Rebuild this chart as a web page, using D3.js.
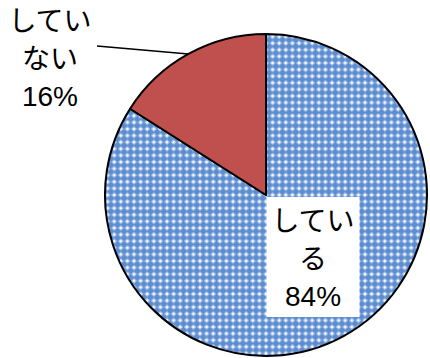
<html>
<head>
    <meta charset="utf-8">
    <script type="text/javascript" src="https://cdn.jsdelivr.net/npm/d3@7"></script>
    <style type="text/css">
        body {
            margin: 0;
            background: #fff;
        }
        svg text {
            font-family: 'Liberation Sans', Arial, 'Noto Sans CJK JP', sans-serif;
            font-size: 28px;
            fill: #000;
        }
    </style>
</head>
<body>
    <div id="chart"></div>
    <script type="text/javascript">
    // data
    var categories = ['している', 'していない'];
    var values = [84, 16];
    var labelLines = [['してい', 'る', '84%'], ['してい', 'ない', '16%']];

    var WIDTH = 430;
    var HEIGHT = 358;
    var CX = 266;
    var CY = 195;
    var RADIUS = 161;
    var LINE_HEIGHT = 37.5;
    var TILE = 6.6;

    var svg = d3.select('#chart')
                .append('svg')
                .attr('width', WIDTH)
                .attr('height', HEIGHT);

    // dotted blue fill like the Excel pattern: blue crosses, white dots between
    var defs = svg.append('defs');
    var pat = defs.append('pattern')
        .attr('id', 'dots')
        .attr('patternUnits', 'userSpaceOnUse')
        .attr('width', TILE)
        .attr('height', TILE);
    pat.append('rect').attr('width', TILE).attr('height', TILE).attr('fill', '#5c8dd1');
    [[0, 0], [TILE, 0], [0, TILE], [TILE, TILE]].forEach(function(p) {
        var s = 2.9;
        pat.append('path')
            .attr('d', 'M' + p[0] + ',' + (p[1] - s) + ' L' + (p[0] + s) + ',' + p[1] +
                       ' L' + p[0] + ',' + (p[1] + s) + ' L' + (p[0] - s) + ',' + p[1] + ' Z')
            .attr('fill', '#b6cbec');
        pat.append('rect')
            .attr('x', p[0] - 0.9).attr('y', p[1] - 0.9)
            .attr('width', 1.8).attr('height', 1.8)
            .attr('fill', '#ffffff');
    });

    var colors = d3.scaleOrdinal()
        .domain(categories)
        .range(['url(#dots)', '#c0504d']);

    var pie = d3.pie().sort(null).value(function(d) { return d; });
    var arcs = pie(values);

    var arc = d3.arc().innerRadius(0).outerRadius(RADIUS);
    var edgeArc = d3.arc().innerRadius(RADIUS).outerRadius(RADIUS);

    var g = svg.append('g').attr('transform', 'translate(' + CX + ',' + CY + ')');

    g.selectAll('path.slice')
        .data(arcs)
        .enter()
        .append('path')
        .attr('class', 'slice')
        .attr('d', arc)
        .attr('fill', function(d, i) { return colors(categories[i]); })
        .attr('stroke', '#000')
        .attr('stroke-width', 2)
        .attr('stroke-linejoin', 'round');

    // inside label for the big slice, on a white box
    var boxW = 93, boxH = 120;
    var inPos = [47, 62];
    var box = svg.append('g')
        .attr('transform', 'translate(' + (CX + inPos[0]) + ',' + (CY + inPos[1]) + ')');
    box.append('rect')
        .attr('x', -boxW / 2)
        .attr('y', -boxH / 2)
        .attr('width', boxW)
        .attr('height', boxH)
        .attr('fill', '#fff');
    box.selectAll('text')
        .data(labelLines[0])
        .enter()
        .append('text')
        .attr('text-anchor', 'middle')
        .attr('x', 0)
        .attr('y', function(d, i) { return -26 + i * LINE_HEIGHT; })
        .text(function(d) { return d; });

    // outside label for the small slice with leader line
    var edge = edgeArc.centroid(arcs[1]);
    svg.append('line')
        .attr('x1', 97)
        .attr('y1', 46)
        .attr('x2', CX + edge[0])
        .attr('y2', CY + edge[1])
        .attr('stroke', '#000')
        .attr('stroke-width', 1.5);

    svg.selectAll('text.outside')
        .data(labelLines[1])
        .enter()
        .append('text')
        .attr('class', 'outside')
        .attr('text-anchor', 'middle')
        .attr('x', 50)
        .attr('y', function(d, i) { return 31 + i * LINE_HEIGHT; })
        .text(function(d) { return d; });
    </script>
</body>
</html>
